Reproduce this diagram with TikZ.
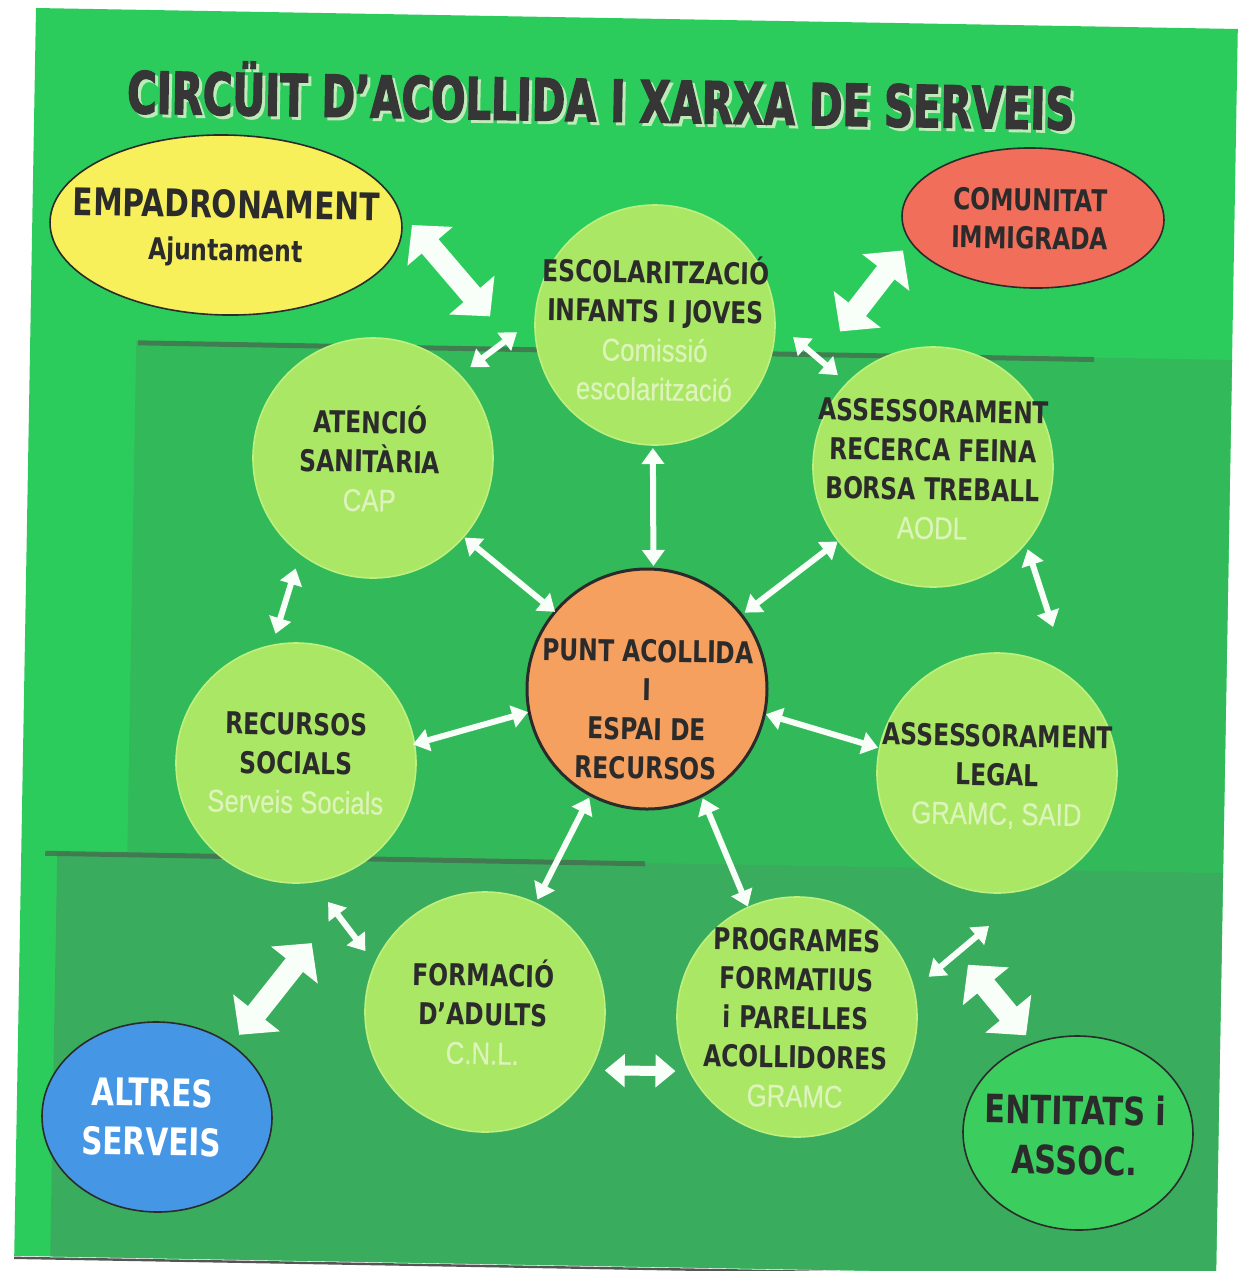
\documentclass[tikz,border=0pt]{standalone}
\usepackage{fontspec}
\usetikzlibrary{shapes.geometric,arrows.meta,calc}
\newfontfamily\labf[FakeStretch=0.78]{DejaVu Sans}
\newfontfamily\titf[FakeStretch=0.695,FakeBold=2.2]{DejaVu Sans}
\newfontfamily\subf[FakeStretch=0.82,FakeBold=0.6]{Liberation Sans}
\definecolor{bgA}{RGB}{44,204,92}
\definecolor{bgB}{RGB}{50,186,90}
\definecolor{bgC}{RGB}{58,172,94}
\definecolor{shline}{RGB}{70,105,78}
\definecolor{bub}{RGB}{170,231,100}
\definecolor{bubrim}{RGB}{190,240,125}
\definecolor{pale}{RGB}{220,243,186}
\definecolor{ink}{RGB}{43,43,43}
\definecolor{orangefill}{RGB}{245,160,95}
\definecolor{yel}{RGB}{248,240,90}
\definecolor{salmon}{RGB}{240,110,90}
\definecolor{bluefill}{RGB}{70,150,230}
\definecolor{entgreen}{RGB}{60,205,95}
\definecolor{arrw}{RGB}{248,255,248}
\definecolor{tshadow}{RGB}{190,235,185}
\newcommand\subtxt[1]{{\subf\mdseries\fontsize{15.7}{19.5}\selectfont\color{pale}#1}}
\begin{document}
\begin{tikzpicture}[x=0.5pt,y=-0.5pt,
  bubble/.style={circle,minimum size=120pt,inner sep=0pt,outer sep=0pt,fill=bub,draw=bubrim,line width=0.8pt},
  oval/.style={ellipse,inner sep=0pt,outer sep=0pt,draw=ink,line width=0.8pt,rotate=-1},
  lab/.style={align=center,inner sep=0pt,text=ink,rotate=-1,font=\labf\bfseries\fontsize{15}{19.5}\selectfont},
  bigarr/.style={draw=arrw,line width=11pt,arrows={Triangle[length=14pt,width=29pt]-Triangle[length=14pt,width=29pt]}},
  medarr/.style={draw=arrw,line width=5pt,arrows={Triangle[length=10pt,width=16pt]-Triangle[length=10pt,width=16pt]}},
  smallarr/.style={draw=arrw,line width=3pt,arrows={Triangle[length=8pt,width=11pt]-Triangle[length=8pt,width=11pt]}},
  titlestyle/.style={inner sep=0pt,rotate=-1,font=\titf\bfseries\fontsize{29}{29}\selectfont}
]
\useasboundingbox (0,0) rectangle (1238,1271);
\fill[white] (0,0) rectangle (1238,1271);
% background panel
\begin{scope}[rotate around={-1:(36,8)}]
  \fill[bgA] (36,8) rectangle (1238,1256);
  \fill[bgB] (142,339) rectangle (1238,852);
  \fill[bgC] (72,852) rectangle (1238,1256);
  \draw[shline,opacity=0.75,line width=2.5pt] (144,341) -- (1100,341);
  \draw[shline,opacity=0.75,line width=2.5pt] (60,853) -- (660,853);
  \draw[ink!80,line width=1.2pt] (36,1258) -- (1180,1258);
\end{scope}
% title
\node[titlestyle,text=tshadow] (titleshadow) at (604,98) {CIRCÜIT D’ACOLLIDA I XARXA DE SERVEIS};
\node[titlestyle,text=ink!95] (title) at (601,95) {CIRCÜIT D’ACOLLIDA I XARXA DE SERVEIS};
% shapes
\node[bubble] (escol) at (655,325) {};
\node[bubble] (atenc) at (373,458) {};
\node[bubble] (asses) at (933,467) {};
\node[bubble] (recur) at (296,763) {};
\node[bubble,fill=orangefill,draw=ink,line width=1.5pt] (punt) at (647,689) {};
\node[bubble] (legal) at (997,773) {};
\node[bubble] (forma) at (485,1012) {};
\node[bubble] (progr) at (797,1017) {};
\node[oval,fill=yel,minimum width=176pt,minimum height=90pt] (empad) at (226,225) {};
\node[oval,fill=salmon,minimum width=131pt,minimum height=70pt] (comun) at (1033,218) {};
\node[oval,fill=bluefill,minimum width=115pt,minimum height=95pt] (altres) at (157,1117) {};
\node[oval,fill=entgreen,minimum width=115pt,minimum height=97pt] (entit) at (1078,1133) {};
% big arrows
\draw[bigarr] ($(empad.1)!-5pt!(empad.center)$) -- ($(escol.177)!-22.6pt!(escol.center)$);
\draw[bigarr] ($(comun.195)!-6.4pt!(comun.center)$) -- ($(escol.358)!-32.6pt!(escol.center)$);
\draw[bigarr] ($(altres.46)!-6.5pt!(altres.center)$) -- ($(recur.275)!-30.4pt!(recur.center)$);
\draw[bigarr] ($(entit.119)!-5.1pt!(entit.center)$) -- ($(progr.17)!-29.4pt!(progr.center)$);
% small arrows
\draw[smallarr] ($(atenc.43)!-6.5pt!(atenc.center)$) -- ($(escol.183)!-9.1pt!(escol.center)$);
\draw[smallarr] ($(escol.355)!-9.3pt!(escol.center)$) -- ($(asses.136)!-6.1pt!(asses.center)$);
\draw[smallarr] ($(escol.269)!-1.5pt!(escol.center)$) -- ($(punt.87)!-1.6pt!(punt.center)$);
\draw[smallarr] ($(atenc.319)!-0.6pt!(atenc.center)$) -- ($(punt.140)!0pt!(punt.center)$);
\draw[smallarr] ($(asses.218)!-0.5pt!(asses.center)$) -- ($(punt.38)!-2pt!(punt.center)$);
\draw[smallarr] ($(atenc.235)!-7.4pt!(atenc.center)$) -- ($(recur.99)!-5.4pt!(recur.center)$);
\draw[smallarr] ($(asses.319)!-2.7pt!(asses.center)$) -- ($(legal.69)!-18.2pt!(legal.center)$);
\draw[smallarr] ($(recur.9)!0.8pt!(recur.center)$) -- ($(punt.191)!-0.6pt!(punt.center)$);
\draw[smallarr] ($(punt.348)!-0.8pt!(punt.center)$) -- ($(legal.168)!-0.8pt!(legal.center)$);
\draw[smallarr] ($(punt.242)!-1.5pt!(punt.center)$) -- ($(forma.65)!-2pt!(forma.center)$);
\draw[smallarr] ($(punt.297)!-1.3pt!(punt.center)$) -- ($(progr.114)!-0.4pt!(progr.center)$);
\draw[smallarr] ($(recur.283)!-11.3pt!(recur.center)$) -- ($(forma.153)!-7.1pt!(forma.center)$);
\draw[smallarr] ($(progr.17)!-8.8pt!(progr.center)$) -- ($(legal.267)!-16.6pt!(legal.center)$);
\draw[medarr] ($(forma.334)!-6.6pt!(forma.center)$) -- ($(progr.204)!-6.5pt!(progr.center)$);
% texts
\node[lab] (escolT) at (655,328) {ESCOLARITZACIÓ\\INFANTS I JOVES\\\subtxt{Comissió}\\\subtxt{escolarització}};
\node[lab] (atencT) at (370,458.5) {ATENCIÓ\\SANITÀRIA\\\subtxt{CAP}};
\node[lab] (assesT) at (933,469.5) {ASSESSORAMENT\\RECERCA FEINA\\BORSA TREBALL\\\subtxt{AODL}};
\node[lab] (recurT) at (296,763) {RECURSOS\\SOCIALS\\\subtxt{Serveis Socials}};
\node[lab] (puntT) at (647,709.5) {PUNT ACOLLIDA\\I\\ESPAI DE\\RECURSOS};
\node[lab] (legalT) at (997,776.5) {ASSESSORAMENT\\LEGAL\\\subtxt{GRAMC, SAID}};
\node[lab] (formaT) at (483,1011.5) {FORMACIÓ\\D’ADULTS\\\subtxt{C.N.L.}};
\node[lab] (progrT) at (796,1018) {PROGRAMES\\FORMATIUS\\i PARELLES\\ACOLLIDORES\\\subtxt{GRAMC}};
\node[lab,font=\labf\bfseries\fontsize{19}{21.5}\selectfont] (empadT) at (226,228.5) {EMPADRONAMENT\\{\fontsize{15}{21.5}\selectfont Ajuntament}};
\node[lab,font=\labf\bfseries\fontsize{15}{19}\selectfont] (comunT) at (1030,219) {COMUNITAT\\IMMIGRADA};
\node[lab,text=white,font=\labf\bfseries\fontsize{19}{24.5}\selectfont] (altresT) at (152,1117) {ALTRES\\SERVEIS};
\node[lab,font=\labf\bfseries\fontsize{19.5}{25}\selectfont] (entitT) at (1075,1135) {ENTITATS i\\ASSOC.};
\end{tikzpicture}
\end{document}
